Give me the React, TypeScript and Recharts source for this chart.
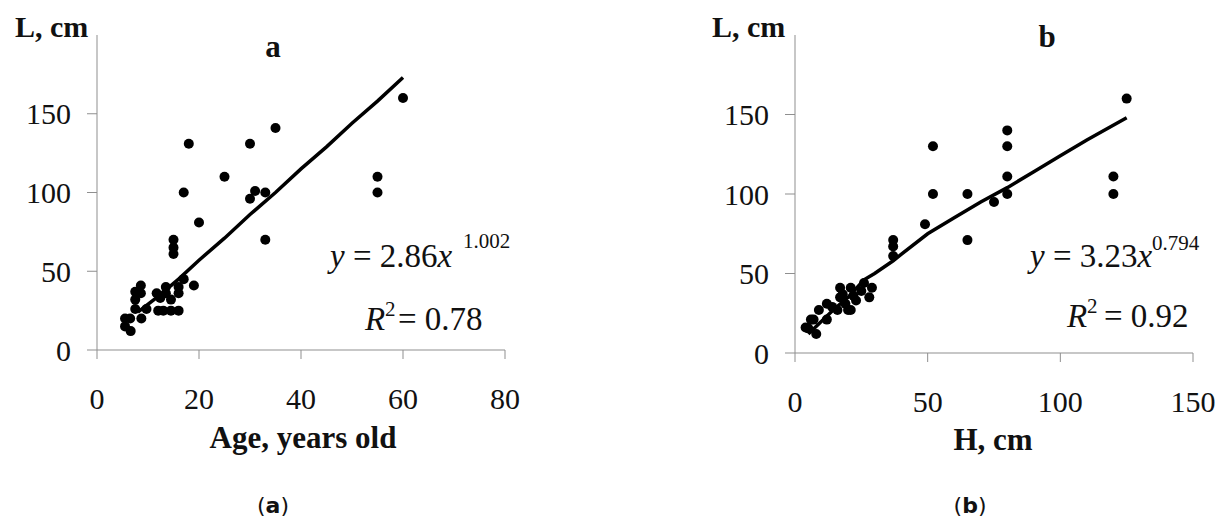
import React from 'react';
import { ScatterChart, Scatter, XAxis, YAxis } from 'recharts';

// Panel a: L (cm) vs age (years)
const ageX = [5.5, 5.5, 6.6, 6.5, 7.5, 7.5, 7.5, 8.6, 8.6, 8.7, 9.7, 11.7, 12.4, 12, 13, 14.5, 16, 13.5, 13.5, 14.5, 16, 16, 17, 15, 15, 15, 17, 18, 19, 20, 25, 30, 30, 31, 33, 33, 35, 55, 55, 60];
const ageL = [20, 15, 12, 20, 37, 32, 26, 41, 36, 20, 26, 36, 33, 25, 25, 25, 25, 40, 36, 32, 40, 36, 45, 70, 65, 61, 100, 131, 41, 81, 110, 96, 131, 101, 100, 70, 141, 110, 100, 160];
const trendAgeX = [8, 12, 16, 20, 25, 30, 35, 40, 45, 50, 55, 60];
const trendAgeL = [24, 34, 45, 57, 71, 86, 100, 115, 129, 144, 158, 173];

// Panel b: L (cm) vs H (cm)
const hX = [5, 8, 7, 4, 6, 9, 12, 12, 14, 17, 17, 19, 21, 21, 23, 25, 26, 28, 29, 22, 18, 16, 20, 37, 37, 37, 49, 52, 52, 65, 65, 75, 80, 80, 80, 80, 120, 120, 125];
const hL = [15.5, 12, 21, 16, 21, 27, 21, 31, 29, 41, 35, 31, 41, 27, 33, 39, 44, 35, 41, 36, 37, 27, 27, 71, 67, 61, 81, 130, 100, 100, 71, 95, 140, 130, 111, 100, 111, 100, 160];
const trendHX = [5, 10, 15, 20, 26, 30, 37, 40, 50, 60, 70, 80, 90, 100, 110, 125];
const trendHL = [12, 20, 28, 35, 46, 50, 58, 62, 75, 85, 95, 104, 114, 124, 134, 148];

const yTicks = [0, 50, 100, 150];
const ageTicks = [0, 20, 40, 60, 80];
const hTicks = [0, 50, 100, 150];

const pts = (xs: number[], ys: number[]) => xs.map((x, i) => ({ x, y: ys[i] }));

const serif = "Liberation Serif";
const axisGray = '#8f8f8f';
const tickStyle = { fontSize: 30, fill: '#111', style: { fontFamily: serif } };

const Dot = (props: any) => <circle cx={props.cx} cy={props.cy} r={5} fill="#000" />;
const NoDot = () => <g />;

function Panel({ data, trend, xTicks, xMax, left, yWidth, right, bottom }: any) {
  return (
    <div style={{ position: 'absolute', left, top: 0, fontFamily: serif }}>
      <ScatterChart width={610} height={521} margin={{ top: 35, right, bottom, left: 0 }} style={{ fontFamily: serif }}>
        <XAxis
          type="number"
          dataKey="x"
          domain={[0, xMax]}
          ticks={xTicks}
          height={60}
          stroke={axisGray}
          tickSize={9}
          tickMargin={29}
          tick={tickStyle}
        />
        <YAxis
          type="number"
          dataKey="y"
          domain={[0, 200]}
          ticks={yTicks}
          width={yWidth}
          stroke={axisGray}
          tickSize={10}
          tickMargin={16}
          tick={tickStyle}
        />
        <Scatter data={trend} shape={NoDot} line={{ stroke: '#000', strokeWidth: 3.5 }} isAnimationActive={false} />
        <Scatter data={data} shape={Dot} isAnimationActive={false} />
      </ScatterChart>
    </div>
  );
}

const cap = { fontFamily: 'DejaVu Sans' };

export default function App() {
  return (
    <div style={{ position: 'absolute', left: 0, top: 0, width: 1220, height: 521, background: '#fff', fontFamily: serif }}>
      <Panel data={pts(ageX, ageL)} trend={pts(trendAgeX, trendAgeL)} xTicks={ageTicks} xMax={80} left={0} yWidth={97} right={105} bottom={111} />
      <Panel data={pts(hX, hL)} trend={pts(trendHX, trendHL)} xTicks={hTicks} xMax={150} left={610} yWidth={185} right={27} bottom={108} />
      <svg width={1220} height={521} style={{ position: 'absolute', left: 0, top: 0, pointerEvents: 'none', fontFamily: serif }} fill="#111">
        {/* panel a */}
        <text x={15} y={37} fontSize={30} fontWeight="bold">L, cm</text>
        <text x={273} y={57} fontSize={31} fontWeight="bold" textAnchor="middle">a</text>
        <text x={303} y={448} fontSize={31} fontWeight="bold" textAnchor="middle">Age, years old</text>
        <text x={330} y={267} fontSize={33}>
          <tspan fontStyle="italic">y</tspan> = 2.86<tspan fontStyle="italic">x</tspan>
        </text>
        <text x={463} y={248} fontSize={21}>1.002</text>
        <text x={365} y={330} fontSize={33} fontStyle="italic">R</text>
        <text x={385} y={316} fontSize={21}>2</text>
        <text x={398} y={330} fontSize={33}>= 0.78</text>
        <text x={273} y={513} fontSize={22} textAnchor="middle" style={cap}>
          (<tspan fontWeight="bold">a</tspan>)
        </text>

        {/* panel b */}
        <text x={712} y={37} fontSize={30} fontWeight="bold">L, cm</text>
        <text x={1047} y={47} fontSize={31} fontWeight="bold" textAnchor="middle">b</text>
        <text x={993} y={450} fontSize={31} fontWeight="bold" textAnchor="middle">H, cm</text>
        <text x={1030} y={267} fontSize={33}>
          <tspan fontStyle="italic">y</tspan> = 3.23<tspan fontStyle="italic">x</tspan>
        </text>
        <text x={1152} y={250} fontSize={21}>0.794</text>
        <text x={1067} y={327} fontSize={33} fontStyle="italic">R</text>
        <text x={1087} y={313} fontSize={21}>2</text>
        <text x={1104} y={327} fontSize={33}>= 0.92</text>
        <text x={970} y={513} fontSize={22} textAnchor="middle" style={cap}>
          (<tspan fontWeight="bold">b</tspan>)
        </text>
      </svg>
    </div>
  );
}
